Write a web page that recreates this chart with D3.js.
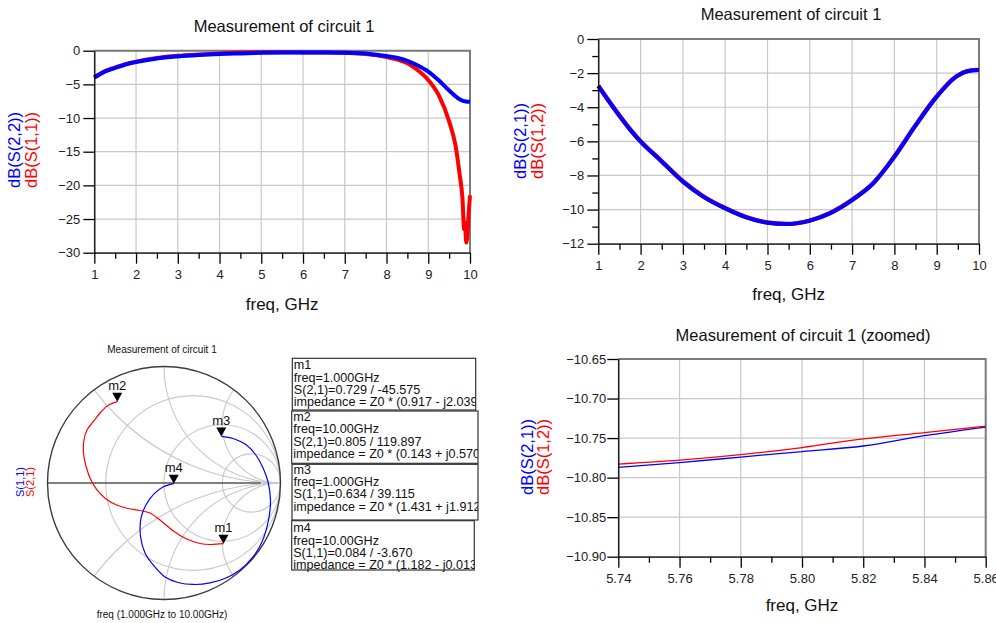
<!DOCTYPE html>
<html lang="en">
<head>
<meta charset="UTF-8">
<title>Measurement of circuit 1</title>
<script src="https://d3js.org/d3.v7.min.js"></script>
<style>
    html, body {
        margin: 0;
        background: #fff;
    }
    svg {
        display: block;
        font-family: "Liberation Sans", Arial, sans-serif;
    }
    .grid line { stroke: #c8c8c8; stroke-width: 1.2px; }
    .axis path, .axis line { stroke: #000; stroke-width: 1.3px; }
    .axis text { fill: #222; font-size: 13px; }
</style>
</head>
<body>
<svg id="vis" width="996" height="623"></svg>
<script>

// ---- data ----
// top left: dB(S(1,1)) and dB(S(2,2)) vs freq (GHz)
var freqS22 = [1, 1.25, 1.5, 1.75, 2, 2.5, 3, 3.5, 4, 4.5, 5, 5.5, 6, 6.5, 7, 7.5, 8, 8.25, 8.5, 8.75, 9, 9.25, 9.5, 9.75, 9.9, 10];
var dbS22 = [-4.0, -3.1, -2.55, -2.05, -1.68, -1.15, -0.85, -0.65, -0.5, -0.4, -0.32, -0.28, -0.26, -0.27, -0.3, -0.42, -0.8, -1.05, -1.5, -2.2, -3.1, -4.4, -5.9, -7.2, -7.55, -7.6];
var freqS11 = [1, 1.25, 1.5, 1.75, 2, 2.5, 3, 3.5, 4, 4.5, 5, 5.5, 6, 6.5, 7, 7.5, 8, 8.25, 8.5, 8.75, 9, 9.25, 9.5, 9.65, 9.75, 9.82, 9.86, 9.88, 9.91, 9.94, 9.97, 10];
var dbS11 = [-3.95, -3.05, -2.5, -2.0, -1.62, -1.08, -0.76, -0.56, -0.4, -0.28, -0.23, -0.24, -0.25, -0.27, -0.3, -0.5, -0.95, -1.3, -1.85, -2.9, -4.35, -6.6, -10.5, -14, -18.3, -22, -26.5, -25.5, -28.5, -27, -24, -21.5];

// top right: dB(S(2,1)) and dB(S(1,2))
var freqS21 = [1, 1.25, 1.5, 1.75, 2, 2.46, 3, 3.48, 4, 4.5, 5, 5.45, 6, 6.47, 7, 7.5, 8, 8.48, 9, 9.46, 9.78, 10];
var dbS21 = [-2.76, -3.65, -4.5, -5.3, -6.02, -7.09, -8.36, -9.24, -9.93, -10.46, -10.77, -10.85, -10.65, -10.22, -9.44, -8.46, -6.9, -5.14, -3.38, -2.21, -1.86, -1.82];
var dbS12 = [-2.74, -3.64, -4.49, -5.29, -6.0, -7.07, -8.34, -9.22, -9.91, -10.44, -10.76, -10.84, -10.64, -10.21, -9.43, -8.45, -6.89, -5.13, -3.37, -2.2, -1.85, -1.81];

// bottom right: zoomed
var freqZoom = [5.74, 5.76, 5.78, 5.80, 5.82, 5.84, 5.86];
var dbS21Zoom = [-10.787, -10.781, -10.774, -10.767, -10.760, -10.747, -10.736];
var dbS12Zoom = [-10.783, -10.778, -10.771, -10.762, -10.751, -10.743, -10.735];

// smith chart traces, reflection coefficient (re, im), 1 GHz -> 10 GHz
var s21Re = [0.510, 0.395, 0.309, 0.195, 0.080, -0.034, -0.120, -0.206, -0.309, -0.406, -0.498, -0.575, -0.627, -0.665, -0.691, -0.687, -0.661, -0.609, -0.549, -0.481, -0.401];
var s21Im = [-0.521, -0.528, -0.519, -0.481, -0.412, -0.318, -0.258, -0.236, -0.219, -0.189, -0.137, -0.060, 0.026, 0.129, 0.258, 0.369, 0.455, 0.524, 0.601, 0.665, 0.698];
var s11Re = [0.492, 0.592, 0.708, 0.794, 0.854, 0.893, 0.914, 0.897, 0.841, 0.764, 0.652, 0.532, 0.395, 0.252, 0.120, 0.009, -0.086, -0.163, -0.202, -0.197, -0.155, -0.086, -0.009, 0.084];
var s11Im = [0.400, 0.382, 0.326, 0.232, 0.120, 0.009, -0.146, -0.318, -0.506, -0.635, -0.747, -0.815, -0.858, -0.871, -0.854, -0.807, -0.712, -0.601, -0.455, -0.300, -0.189, -0.094, -0.034, -0.005];
var smithR = [1 / 3, 1, 3];
var smithX = [0.5, 1, 2];

// markers
var markerNames = ["m1", "m2", "m3", "m4"];
var markerFreq = ["1.000GHz", "10.00GHz", "1.000GHz", "10.00GHz"];
var markerParam = ["S(2,1)", "S(2,1)", "S(1,1)", "S(1,1)"];
var markerMag = [0.729, 0.805, 0.634, 0.084];
var markerAng = [-45.575, 119.897, 39.115, -3.670];
var markerZ = ["(0.917 - j2.039)", "(0.143 + j0.570)", "(1.431 + j1.912)", "(1.182 - j0.013)"];

var blue = "#0000ff";
var red = "#ff0000";

var svg = d3.select("#vis");

function rectChart(o) {
    var g = svg.append("g");
    var x = d3.scaleLinear().domain(o.xDomain).range([o.left, o.right]);
    var y = d3.scaleLinear().domain(o.yDomain).range([o.bottom, o.top]);

    // grid
    g.append("g").attr("class", "grid")
        .selectAll("line").data(o.xTicks).enter().append("line")
        .attr("x1", function(d){ return x(d); }).attr("x2", function(d){ return x(d); })
        .attr("y1", o.top).attr("y2", o.bottom);
    g.append("g").attr("class", "grid")
        .selectAll("line").data(o.yTicks).enter().append("line")
        .attr("y1", function(d){ return y(d); }).attr("y2", function(d){ return y(d); })
        .attr("x1", o.left).attr("x2", o.right);

    // top + right frame
    g.append("path")
        .attr("d", "M" + o.left + "," + o.top + "H" + o.right + "V" + o.bottom)
        .attr("fill", "none").attr("stroke", "#7a7a7a").attr("stroke-width", 2);

    // series
    o.series.forEach(function(s){
        var line = d3.line()
            .x(function(d, i){ return x(s.x[i]); })
            .y(function(d){ return y(d); })
            .curve(d3.curveMonotoneX);
        g.append("path")
            .attr("d", line(s.y))
            .attr("fill", "none")
            .attr("stroke", s.color)
            .attr("stroke-width", s.width)
            .attr("stroke-linejoin", "round");
    });

    // axes
    g.append("g").attr("class", "axis").attr("transform", "translate(0," + o.bottom + ")")
        .call(d3.axisBottom(x).tickValues(o.xMinor).tickSize(6).tickSizeOuter(0).tickFormat(""))
        .select(".domain").remove();
    g.append("g").attr("class", "axis").attr("transform", "translate(0," + o.bottom + ")")
        .call(d3.axisBottom(x).tickValues(o.xTicks).tickSize(11).tickSizeOuter(0).tickPadding(6).tickFormat(o.xFormat));
    if (o.yMinor) {
        g.append("g").attr("class", "axis").attr("transform", "translate(" + o.left + ",0)")
            .call(d3.axisLeft(y).tickValues(o.yMinor).tickSize(6).tickSizeOuter(0).tickFormat(""))
            .select(".domain").remove();
    }
    g.append("g").attr("class", "axis").attr("transform", "translate(" + o.left + ",0)")
        .call(d3.axisLeft(y).tickValues(o.yTicks).tickSize(11).tickSizeOuter(0).tickPadding(o.yPad).tickFormat(o.yFormat));

    // titles
    g.append("text")
        .attr("x", o.titleX).attr("y", o.titleY).attr("dy", "0.35em")
        .attr("text-anchor", "middle").attr("font-size", "16.5px").attr("fill", "#111")
        .text(o.title);
    g.append("text")
        .attr("x", (o.left + o.right) / 2).attr("y", o.xLabelY).attr("dy", "0.35em")
        .attr("text-anchor", "middle").attr("font-size", "17px").attr("fill", "#111")
        .text("freq, GHz");
    o.yLabels.forEach(function(l){
        g.append("text")
            .attr("transform", "translate(" + l.x + "," + o.yLabelY + ")rotate(-90)")
            .attr("text-anchor", "middle").attr("font-size", "16.5px").attr("fill", l.color)
            .text(l.text);
    });
}

rectChart({
    left: 94.3, right: 470, top: 50.7, bottom: 252.7,
    xDomain: [1, 10], yDomain: [-30, 0],
    xTicks: d3.range(1, 11), xMinor: d3.range(1.5, 10, 1),
    yTicks: d3.range(-30, 1, 5), yPad: 3,
    xFormat: d3.format("d"), yFormat: d3.format("d"),
    title: "Measurement of circuit 1", titleX: 284, titleY: 26, xLabelY: 304,
    yLabelY: 150,
    yLabels: [{text: "dB(S(2,2))", color: blue, x: 20}, {text: "dB(S(1,1))", color: red, x: 37}],
    series: [
        {x: freqS11, y: dbS11, color: red, width: 4},
        {x: freqS22, y: dbS22, color: blue, width: 4}
    ]
});

rectChart({
    left: 598.3, right: 979, top: 39, bottom: 243.7,
    xDomain: [1, 10], yDomain: [-12, 0],
    xTicks: d3.range(1, 11), xMinor: d3.range(1.5, 10, 1),
    yTicks: d3.range(-12, 1, 2), yMinor: d3.range(-11, 0, 2), yPad: 3,
    xFormat: d3.format("d"), yFormat: d3.format("d"),
    title: "Measurement of circuit 1", titleX: 791, titleY: 14, xLabelY: 294,
    yLabelY: 141,
    yLabels: [{text: "dB(S(2,1))", color: blue, x: 526}, {text: "dB(S(1,2))", color: red, x: 543}],
    series: [
        {x: freqS21, y: dbS12, color: red, width: 4.4},
        {x: freqS21, y: dbS21, color: blue, width: 4}
    ]
});

rectChart({
    left: 618.3, right: 985.7, top: 359, bottom: 556.7,
    xDomain: [5.74, 5.86], yDomain: [-10.90, -10.65],
    xTicks: [5.74, 5.76, 5.78, 5.80, 5.82, 5.84, 5.86], xMinor: [5.75, 5.77, 5.79, 5.81, 5.83, 5.85],
    yTicks: [-10.90, -10.85, -10.80, -10.75, -10.70, -10.65], yPad: 1,
    xFormat: d3.format(".2f"), yFormat: d3.format(".2f"),
    title: "Measurement of circuit 1 (zoomed)", titleX: 803, titleY: 335, xLabelY: 605,
    yLabelY: 457,
    yLabels: [{text: "dB(S(2,1))", color: blue, x: 533}, {text: "dB(S(1,2))", color: red, x: 549}],
    series: [
        {x: freqZoom, y: dbS21Zoom, color: blue, width: 1.3},
        {x: freqZoom, y: dbS12Zoom, color: red, width: 1.3}
    ]
});

// ---- smith chart ----
var cx = 164, cy = 483, R = 116.5;
var sx = d3.scaleLinear().domain([-1, 1]).range([cx - R, cx + R]);
var sy = d3.scaleLinear().domain([-1, 1]).range([cy + R, cy - R]);
var rad = d3.scaleLinear().domain([0, 1]).range([0, R]);

svg.append("clipPath").attr("id", "smithClip")
    .append("circle").attr("cx", sx(0)).attr("cy", sy(0)).attr("r", rad(1));

var smith = svg.append("g");
var grid = smith.append("g").attr("clip-path", "url(#smithClip)")
    .attr("fill", "none").attr("stroke", "#c8c8c8").attr("stroke-width", 1.1);

grid.selectAll(".rc").data(smithR).enter().append("circle")
    .attr("cx", function(r){ return sx(r / (r + 1)); })
    .attr("cy", sy(0))
    .attr("r", function(r){ return rad(1 / (r + 1)); });

var arcs = [];
smithX.forEach(function(v){ arcs.push(v); arcs.push(-v); });
grid.selectAll(".xc").data(arcs).enter().append("circle")
    .attr("cx", sx(1))
    .attr("cy", function(v){ return sy(1 / v); })
    .attr("r", function(v){ return rad(1 / Math.abs(v)); });

smith.append("line")
    .attr("x1", sx(-1)).attr("x2", sx(0.83)).attr("y1", sy(0)).attr("y2", sy(0))
    .attr("stroke", "#000").attr("stroke-width", 1.1);

smith.append("circle")
    .attr("cx", sx(0)).attr("cy", sy(0)).attr("r", rad(1))
    .attr("fill", "none").attr("stroke", "#3c3c3c").attr("stroke-width", 1.4);

var smithLine = d3.line()
    .x(function(d){ return sx(d[0]); })
    .y(function(d){ return sy(d[1]); })
    .curve(d3.curveCatmullRom);

smith.append("path")
    .attr("d", smithLine(s21Re.map(function(v, i){ return [v, s21Im[i]]; })))
    .attr("fill", "none").attr("stroke", red).attr("stroke-width", 1.2);
smith.append("path")
    .attr("d", smithLine(s11Re.map(function(v, i){ return [v, s11Im[i]]; })))
    .attr("fill", "none").attr("stroke", blue).attr("stroke-width", 1.2);

// marker triangles
markerNames.forEach(function(m, i){
    var a = markerAng[i] * Math.PI / 180;
    var px = sx(markerMag[i] * Math.cos(a));
    var py = sy(markerMag[i] * Math.sin(a));
    smith.append("path")
        .attr("d", "M" + (px - 5) + "," + (py - 9) + "L" + (px + 5) + "," + (py - 9) + "L" + px + "," + py + "Z")
        .attr("fill", "#000");
    smith.append("text")
        .attr("x", px).attr("y", py - 11.5)
        .attr("text-anchor", "middle").attr("font-size", "13px").attr("fill", "#111")
        .text(m);
});

smith.append("text")
    .attr("x", 162).attr("y", 349).attr("dy", "0.35em")
    .attr("text-anchor", "middle").attr("font-size", "10px").attr("fill", "#111")
    .text("Measurement of circuit 1");
smith.append("text")
    .attr("x", 162).attr("y", 614).attr("dy", "0.35em")
    .attr("text-anchor", "middle").attr("font-size", "10px").attr("fill", "#111")
    .text("freq (1.000GHz to 10.00GHz)");
smith.append("text")
    .attr("transform", "translate(24,482)rotate(-90)")
    .attr("text-anchor", "middle").attr("font-size", "11px").attr("fill", blue)
    .text("S(1,1)");
smith.append("text")
    .attr("transform", "translate(34,482)rotate(-90)")
    .attr("text-anchor", "middle").attr("font-size", "11px").attr("fill", red)
    .text("S(2,1)");

// ---- marker readout boxes ----
var boxes = [
    {x: 292.3, y: 358.3, w: 183.4, h: 51.7, ty: 365},
    {x: 291.7, y: 411, w: 186.3, h: 52.3, ty: 416.7},
    {x: 292, y: 464.3, w: 186, h: 55.7, ty: 469.3},
    {x: 291.7, y: 520.7, w: 182.6, h: 49.3, ty: 528}
];

boxes.forEach(function(b, i){
    var id = "boxClip" + i;
    // clip only at the right edge, like the original readout
    svg.append("clipPath").attr("id", id)
        .append("rect").attr("x", b.x).attr("y", b.y - 4).attr("width", b.w).attr("height", b.h + 8);
    var lines = [
        markerNames[i],
        "freq=" + markerFreq[i],
        markerParam[i] + "=" + markerMag[i].toFixed(3) + " / " + markerAng[i].toFixed(3),
        "impedance = Z0 * " + markerZ[i]
    ];
    var bg = svg.append("g");
    bg.append("g").attr("clip-path", "url(#" + id + ")")
        .selectAll("text").data(lines).enter().append("text")
        .attr("x", b.x + 1.5)
        .attr("y", function(d, k){ return b.ty + k * 12.3; })
        .attr("dy", "0.35em")
        .attr("font-size", "12.6px").attr("fill", "#111")
        .text(function(d){ return d; });
    bg.append("rect")
        .attr("x", b.x).attr("y", b.y).attr("width", b.w).attr("height", b.h)
        .attr("fill", "none").attr("stroke", "#333").attr("stroke-width", 1.2);
});

</script>
</body>
</html>
